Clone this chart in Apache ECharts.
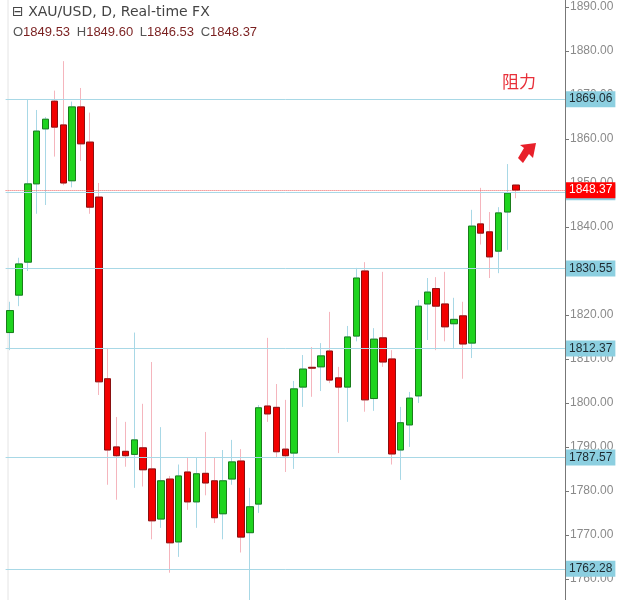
<!DOCTYPE html>
<html>
<head>
<meta charset="utf-8">
<script src="https://cdn.jsdelivr.net/npm/echarts@6/dist/echarts.min.js"></script>
<style>html,body{margin:0;padding:0;background:#fff}#chart{width:619px;height:600px}</style>
</head>
<body>
<div id="chart"></div>
<script>
// 日线 K 线: [open, close, low, high]
var candles = [
 [1816,1821,1812,1823],[1824.5,1831.6,1822,1833],[1832,1849.8,1830,1869],[1849.8,1861.8,1843,1866.6],
 [1862.3,1864.5,1845,1865],[1868.6,1862.7,1856,1871],[1863.2,1850,1849.5,1877.7],[1850.5,1867.3,1849,1868.5],
 [1867.3,1858.9,1855,1871.6],[1859.3,1844.5,1843,1866],[1846.8,1804.8,1801.8,1850],[1805.5,1789.3,1781.4,1812.5],
 [1790,1788,1778,1796.8],[1789,1788,1785.5,1795.7],[1788.3,1791.6,1780.7,1816],[1789.8,1784.8,1781,1799.8],
 [1785,1773.2,1769,1809.3],[1773.6,1782.3,1771.6,1794.5],[1782.7,1768.2,1761.4,1783.4],[1768.4,1783.4,1765,1786],
 [1784.3,1777.5,1775.7,1787.5],[1777.5,1783.9,1771.6,1787.7],[1784,1781.8,1779,1793.4],[1782.3,1773.9,1772.7,1787.7],
 [1774.8,1782.3,1769,1789.3],[1782.7,1786.6,1781.4,1791.6],[1786.8,1769.5,1766,1789.5],[1770.5,1776.4,1755,1780.7],
 [1777,1798.9,1775,1799.5],[1799.3,1797.5,1795.7,1814.8],[1799,1788.9,1787.7,1804.3],[1789.5,1788,1784.3,1800.7],
 [1788.6,1803.2,1785,1805],[1803.6,1807.7,1799.1,1810.9],[1808.1,1807.9,1801.4,1812.7],[1808.2,1810.7,1802.7,1813.6],
 [1811.8,1805.2,1804.5,1820.7],[1805.7,1803.6,1788.6,1808.2],[1803.6,1815,1795.7,1817.5],[1815.2,1828.4,1814,1830.7],
 [1830,1800.7,1798,1832],[1801,1814.5,1798.2,1817],[1814.8,1809.3,1808.2,1829.8],[1810,1788.4,1786,1812],
 [1789.3,1795.5,1782.5,1799.1],[1795,1801.1,1790,1802.5],[1801.6,1822,1800,1823.4],[1822.5,1825.2,1814.3,1828.4],
 [1826,1822,1812,1828.6],[1822.5,1817.3,1814,1829.8],[1818,1819,1812.5,1823.9],[1819.8,1813.4,1805.5,1823],
 [1813.6,1840.2,1810.2,1843.9],[1840.7,1838.6,1836,1848.9],[1838.9,1833.2,1828.4,1843.4],[1834.5,1843.2,1829.5,1844.5],
 [1843.4,1847.7,1834.8,1854.3],[1849.53,1848.37,1846.53,1849.6]
];
var levels = [1869.06, 1847.91, 1830.55, 1812.37, 1787.57, 1762.28];
var lastPrice = 1848.37;
var tickValues = [1760,1770,1780,1790,1800,1810,1820,1830,1840,1850,1860,1870,1880,1890];

var categories = candles.map(function (d, i) { return 'D' + (i + 1); });
var bodies = candles.map(function (d) {
  return [d[0], d[1], Math.min(d[0], d[1]), Math.max(d[0], d[1])];
});

var levelLines = levels.map(function (v) {
  return { yAxis: v, lineStyle: { color: '#a8d8e6', width: 1, type: 'solid' },
    label: { backgroundColor: '#8ccfe0', color: '#1e2a30' } };
});
levelLines.push({ yAxis: lastPrice, lineStyle: { color: '#f06060', width: 1, type: 'dotted' },
  label: { backgroundColor: '#ff0000', color: '#fff' } });

var myChart = echarts.init(document.getElementById('chart'));
myChart.setOption({
  animation: false,
  grid: { left: 5.6, right: 54, top: 0, bottom: 0 },
  xAxis: {
    type: 'category', data: categories, max: 62, boundaryGap: true,
    axisLine: { show: false }, axisTick: { show: false }, axisLabel: { show: false },
    splitLine: { show: false }
  },
  yAxis: {
    type: 'value', position: 'right', min: 1755.2, max: 1891.6, scale: true,
    axisLine: { show: true, lineStyle: { color: '#777' } },
    axisTick: { show: true, customValues: tickValues, length: 4, lineStyle: { color: '#777' } },
    axisLabel: { customValues: tickValues, color: '#8a8a8a', fontSize: 12, fontFamily: 'Arial', margin: 5,
      formatter: function (v) { return v.toFixed(2); } },
    splitLine: { show: false }
  },
  series: [
    {
      type: 'candlestick', data: candles, barWidth: 7,
      itemStyle: { color: '#a8d8e6', color0: '#f5b5bd', borderColor: '#a8d8e6', borderColor0: '#f5b5bd', borderWidth: 1 },
      silent: true
    },
    {
      type: 'candlestick', data: bodies, barWidth: 7,
      itemStyle: { color: '#1ed41e', color0: '#f20000', borderColor: '#1a7d1a', borderColor0: '#8a1010', borderWidth: 1 },
      markLine: {
        symbol: 'none', silent: true, animation: false,
        label: { position: 'end', distance: 1, fontSize: 12, fontFamily: 'Arial', padding: [2, 3, 2, 3],
          formatter: function (p) { return p.value.toFixed(2); } },
        data: levelLines
      }
    }
  ],
  graphic: [
    { type: 'line', shape: { x1: 8, y1: 0, x2: 8, y2: 600 }, style: { stroke: '#e4e4e4', lineWidth: 1 } },
    { type: 'text', left: 12, top: 5, style: {
      text: '⊟ XAU/USD, D, Real-time FX', fill: '#444', font: '14px "DejaVu Sans", Arial' } },
    { type: 'text', left: 13, top: 26, style: {
      text: '{k|O}{v|1849.53}  {k|H}{v|1849.60}  {k|L}{v|1846.53}  {k|C}{v|1848.37}',
      rich: { k: { fill: '#555', font: '13px Arial' }, v: { fill: '#7a1f1f', font: '13px Arial' } } } },
    { type: 'text', left: 502, top: 73, style: {
      text: '阻力', fill: '#e8303a', font: '17px "Noto Sans CJK SC"' } },
    { type: 'polygon', shape: { points: [[518,158],[524,148],[520,145],[536,143],[533,158],[529,154],[523,163]] },
      style: { fill: '#e8202a' } }
  ]
});
</script>
</body>
</html>
